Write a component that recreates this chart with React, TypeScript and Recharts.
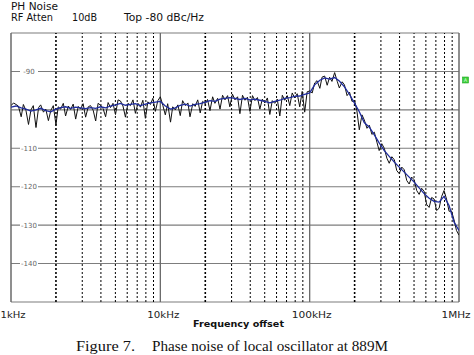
import {CartesianGrid, Line, LineChart, ReferenceLine, XAxis, YAxis} from 'recharts';

// offset frequency in kHz for the averaged trace, ~30 samples per decade
const freqKHz = [
  1.0, 1.08, 1.17, 1.26, 1.36, 1.47, 1.58, 1.71, 1.85, 2.0,
  2.15, 2.32, 2.51, 2.71, 2.92, 3.16, 3.41, 3.69, 3.98, 4.3,
  4.64, 5.01, 5.41, 5.84, 6.31, 6.81, 7.36, 7.94, 8.58, 9.26,
  10.0, 10.8, 11.7, 12.6, 13.6, 14.7, 15.8, 17.1, 18.5, 20.0,
  21.5, 23.2, 25.1, 27.1, 29.2, 31.6, 34.1, 36.9, 39.8, 43.0,
  46.4, 50.1, 54.1, 58.4, 63.1, 68.1, 73.6, 79.4, 85.8, 92.6,
  100, 108, 117, 126, 136, 147, 158, 171, 185, 200,
  215, 232, 251, 271, 292, 316, 341, 369, 398, 430,
  464, 501, 541, 584, 631, 681, 736, 794, 858, 926,
  1000,
];

// averaged trace (blue), dBc/Hz
const avgDbc = [
  -99.3, -99.0, -99.5, -99.8, -100.3, -100.0, -99.6, -100.2, -100.5, -99.8,
  -99.4, -99.2, -99.6, -99.3, -99.5, -99.7, -99.4, -99.6, -99.2, -99.5,
  -99.0, -98.7, -98.3, -98.8, -98.6, -98.4, -98.9, -98.5, -98.2, -98.0,
  -97.8, -99.0, -99.8, -99.5, -98.8, -98.5, -99.0, -98.6, -98.4, -98.0,
  -97.6, -97.8, -97.2, -97.0, -96.8, -97.0, -97.3, -97.0, -97.4, -97.2,
  -97.5, -97.8, -98.2, -97.8, -97.5, -97.0, -96.8, -96.5, -96.4, -96.0,
  -95.6, -93.5, -92.3, -91.7, -92.0, -91.6, -92.5, -94.0, -96.0, -98.3,
  -100.5, -103.3, -104.5, -106.5, -108.6, -110.6, -112.1, -113.6, -114.9, -116.2,
  -117.5, -118.8, -120.3, -121.8, -123.0, -123.8, -124.0, -122.5, -124.9, -129.2,
  -131.4,
];

// offset frequency in kHz for the raw sweep, ~60 samples per decade
const rawFreqKHz = [
  1.0, 1.04, 1.08, 1.12, 1.17, 1.21, 1.26, 1.31, 1.36, 1.41,
  1.47, 1.53, 1.58, 1.65, 1.71, 1.78, 1.85, 1.92, 2.0, 2.07,
  2.15, 2.24, 2.32, 2.42, 2.51, 2.61, 2.71, 2.82, 2.92, 3.04,
  3.16, 3.29, 3.41, 3.55, 3.69, 3.83, 3.98, 4.14, 4.3, 4.47,
  4.64, 4.82, 5.01, 5.21, 5.41, 5.62, 5.84, 6.07, 6.31, 6.56,
  6.81, 7.08, 7.36, 7.64, 7.94, 8.25, 8.58, 8.91, 9.26, 9.62,
  10.0, 10.4, 10.8, 11.2, 11.7, 12.1, 12.6, 13.1, 13.6, 14.1,
  14.7, 15.3, 15.8, 16.5, 17.1, 17.8, 18.5, 19.2, 20.0, 20.7,
  21.5, 22.4, 23.2, 24.2, 25.1, 26.1, 27.1, 28.2, 29.2, 30.4,
  31.6, 32.9, 34.1, 35.5, 36.9, 38.3, 39.8, 41.4, 43.0, 44.7,
  46.4, 48.2, 50.1, 52.1, 54.1, 56.2, 58.4, 60.7, 63.1, 65.6,
  68.1, 70.8, 73.6, 76.4, 79.4, 82.5, 85.8, 89.1, 92.6, 96.2,
  100, 104, 108, 112, 117, 121, 126, 131, 136, 141,
  147, 153, 158, 165, 171, 178, 185, 192, 200, 207,
  215, 224, 232, 242, 251, 261, 271, 282, 292, 304,
  316, 329, 341, 355, 369, 383, 398, 414, 430, 447,
  464, 482, 501, 521, 541, 562, 584, 607, 631, 656,
  681, 708, 736, 764, 794, 825, 858, 891, 926, 962,
  1000,
];

// raw sweep (black), dBc/Hz
const rawDbc = [
  -98.9, -98.2, -98.6, -99.0, -101.8, -98.6, -100.2, -103.8, -100.0, -98.9,
  -104.6, -99.4, -98.7, -100.6, -99.8, -102.8, -100.1, -98.9, -103.9, -99.2,
  -99.8, -98.3, -101.6, -99.0, -99.9, -98.5, -102.4, -99.1, -99.8, -98.4,
  -101.9, -99.2, -98.9, -100.1, -102.9, -98.3, -98.8, -99.7, -101.8, -98.1,
  -99.4, -98.3, -101.2, -97.4, -97.7, -99.0, -101.9, -98.3, -98.9, -97.4,
  -100.9, -98.3, -99.3, -97.5, -102.2, -97.9, -98.6, -97.0, -100.4, -97.6,
  -96.6, -98.9, -101.3, -98.4, -103.2, -99.2, -100.0, -98.7, -101.5, -97.6,
  -98.9, -98.2, -101.8, -98.4, -99.1, -97.4, -100.8, -97.8, -98.4, -97.3,
  -100.2, -96.6, -98.3, -97.0, -99.8, -96.2, -97.4, -96.3, -99.2, -95.9,
  -97.4, -96.6, -101.0, -96.2, -97.5, -96.7, -100.4, -96.3, -97.6, -96.8,
  -99.8, -97.2, -98.2, -96.9, -101.2, -97.6, -98.3, -97.2, -101.6, -96.2,
  -97.5, -96.3, -98.9, -95.6, -96.9, -95.8, -99.2, -95.2, -100.6, -95.3,
  -95.1, -95.6, -93.0, -92.4, -94.4, -91.5, -91.2, -93.6, -91.5, -92.6,
  -90.3, -92.6, -94.3, -92.7, -93.5, -96.3, -95.4, -97.8, -97.6, -100.2,
  -105.2, -101.3, -102.6, -104.8, -104.0, -106.4, -105.8, -108.4, -110.6, -108.8,
  -110.0, -112.6, -113.9, -112.2, -113.0, -115.8, -116.6, -114.9, -115.6, -118.4,
  -119.3, -117.5, -118.2, -121.0, -122.0, -120.4, -121.2, -124.6, -125.4, -122.8,
  -123.2, -126.2, -125.6, -122.6, -121.0, -123.2, -126.4, -126.3, -128.6, -131.4,
  -132.6,
];

const xTicks = [1000, 10000, 100000, 1000000];
const xTickLabels = ['1kHz', '10kHz', '100kHz', '1MHz'];
const yTicks = [-150, -140, -130, -120, -110, -100, -90, -80];
const yLabelled = [-140, -130, -120, -110, -90];
const minorGridHz = [
  2000, 3000, 4000, 5000, 6000, 7000, 8000, 9000,
  20000, 30000, 40000, 50000, 60000, 70000, 80000, 90000,
  200000, 300000, 400000, 500000, 600000, 700000, 800000, 900000,
];
const decadeGridHz = [10000, 100000];
const edgeHz = [1000, 1000000];

const avgRows = freqKHz.map((k, i) => ({f: k * 1000, avg: avgDbc[i]}));
const rawRows = rawFreqKHz.map((k, i) => ({f: k * 1000, raw: rawDbc[i]}));

const W = 474;
const H = 355;
const PLOT_LEFT = 11;
const PLOT_BOTTOM = 302;
const SANS = 'DejaVu Sans, Verdana, sans-serif';

// label placement on the scope screen (text is slightly stretched in the scan)
const xTickShift = [2, 3, 2, -3];
const xTickLen = [25, 32, 40, 29];

function XTick(props: any) {
  const i = props.index ?? 0;
  return (
    <text
      x={props.x + xTickShift[i]}
      y={PLOT_BOTTOM + 16}
      textAnchor="middle"
      fontFamily={SANS}
      fontSize={9}
      fill="#222"
      textLength={xTickLen[i]}
      lengthAdjust="spacingAndGlyphs"
    >
      {xTickLabels[i]}
    </text>
  );
}

function yLabel(value: number) {
  return (props: any) => {
    const vb = props.viewBox || {};
    const x = (vb.x ?? PLOT_LEFT) + 18;
    const y = vb.y ?? 0;
    return (
      <g>
        <rect x={x - 9} y={y - 4} width={18} height={8} fill="#fff" />
        <text x={x} y={y + 2.5} textAnchor="middle" fontFamily={SANS} fontSize={7} fill="#666">
          {value}
        </text>
      </g>
    );
  };
}

export default function App() {
  return (
    <div style={{position: 'relative', width: W, height: H, background: '#fff', overflow: 'hidden'}}>
      <style>{'body{margin:0}'}</style>
      <LineChart width={W} height={H} margin={{top: 33, right: 15, bottom: 33, left: PLOT_LEFT}}>
        <CartesianGrid vertical={false} stroke="#7d7d7d" strokeWidth={1.1} />
        {minorGridHz.map((f, i) => (
          <ReferenceLine
            key={f}
            x={f}
            stroke="#000"
            strokeWidth={i % 8 === 0 ? 1.6 : 1}
            strokeDasharray="2 2"
          />
        ))}
        {decadeGridHz.map(f => (
          <ReferenceLine key={f} x={f} stroke="#6a6a6a" strokeWidth={1.3} />
        ))}
        {edgeHz.map(f => (
          <ReferenceLine key={f} x={f} stroke="#6a6a6a" strokeWidth={1.5} />
        ))}
        {yLabelled.map(v => (
          <ReferenceLine key={v} y={v} stroke="none" label={yLabel(v)} />
        ))}
        <XAxis
          dataKey="f"
          type="number"
          scale="log"
          domain={[1000, 1000000]}
          ticks={xTicks}
          interval={0}
          height={20}
          axisLine={false}
          tickLine={false}
          tick={XTick}
          allowDataOverflow
        />
        <YAxis
          type="number"
          domain={[-150, -80]}
          ticks={yTicks}
          interval={0}
          width={0}
          axisLine={false}
          tickLine={false}
          tick={() => <g />}
          allowDataOverflow
        />
        <Line data={rawRows} type="linear" dataKey="raw" stroke="#111" strokeWidth={1} dot={false} isAnimationActive={false} />
        <Line data={avgRows} type="linear" dataKey="avg" stroke="#1f2c9e" strokeWidth={1.3} dot={false} isAnimationActive={false} />
      </LineChart>
      <svg width={W} height={H} style={{position: 'absolute', left: 0, top: 0, pointerEvents: 'none'}}>
        <g fontFamily={SANS} fontSize={10} fill="#111">
          <text x={11} y={10} textLength={47} lengthAdjust="spacingAndGlyphs">PH Noise</text>
          <text x={11} y={21} textLength={42} lengthAdjust="spacingAndGlyphs">RF Atten</text>
          <text x={72} y={21} textLength={25} lengthAdjust="spacingAndGlyphs">10dB</text>
          <text x={124} y={21} textLength={80} lengthAdjust="spacingAndGlyphs">Top -80 dBc/Hz</text>
        </g>
        <text
          x={193}
          y={327}
          fontFamily={SANS}
          fontWeight="bold"
          fontSize={9}
          fill="#111"
          textLength={91}
          lengthAdjust="spacingAndGlyphs"
        >
          Frequency offset
        </text>
        <rect x={462.5} y={77} width={6} height={6} fill="#3ccf3c" stroke="#22a822" strokeWidth={0.6} />
        <text x={465.5} y={82} textAnchor="middle" fontFamily={SANS} fontSize={5} fill="#dfffdf">A</text>
        <g fontFamily="Liberation Serif, Times New Roman, serif" fontSize={14} fill="#111">
          <text x={76} y={351} textLength={59} lengthAdjust="spacingAndGlyphs">Figure 7.</text>
          <text x={152} y={351} textLength={236} lengthAdjust="spacingAndGlyphs">
            Phase noise of local oscillator at 889M
          </text>
        </g>
      </svg>
    </div>
  );
}
